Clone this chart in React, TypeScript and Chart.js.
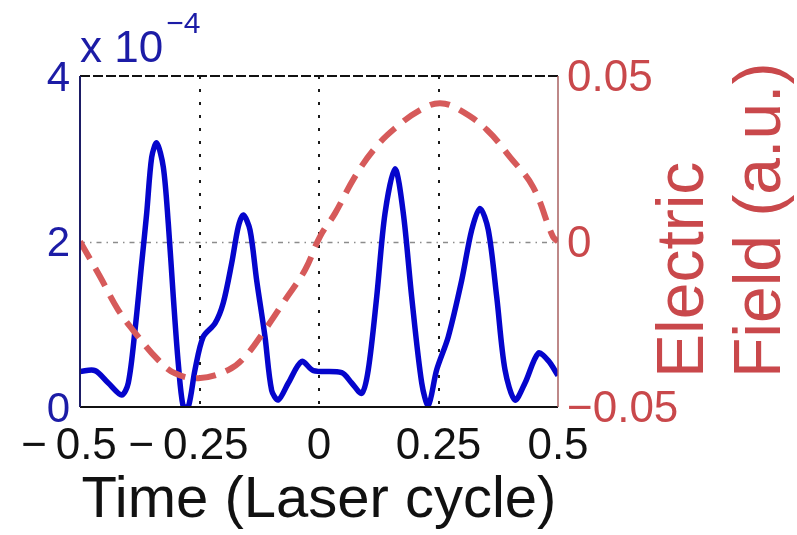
import React, { useEffect, useRef } from 'react';
import { Chart, registerables } from 'chart.js';

Chart.register(...registerables);

// Time (laser cycles) for the intensity trace
const intensityTime = [
  -0.5, -0.4686, -0.4408, -0.4128, -0.399, -0.3849, -0.3709, -0.3605, -0.35, -0.3395,
  -0.3257, -0.3153, -0.3048, -0.2944, -0.2839, -0.2734, -0.2594, -0.2421, -0.2176, -0.2002,
  -0.1826, -0.1688, -0.1584, -0.1444, -0.1304, -0.113, -0.099, -0.0851, -0.0642, -0.0362,
  -0.0119, 0.0475, 0.0684, 0.0893, 0.1031, 0.1207, 0.1381, 0.159, 0.1764, 0.1939,
  0.2149, 0.2287, 0.2462, 0.2705, 0.2985, 0.3195, 0.3368, 0.3542, 0.3718, 0.3891,
  0.41, 0.431, 0.4588, 0.4797, 0.5,
];
// Intensity in units of 1e-4
const intensityValues = [
  0.43, 0.44, 0.29, 0.145, 0.29, 0.93, 1.74, 2.34, 3.02, 3.19,
  2.9, 2.22, 1.33, 0.53, 0.0, 0.0, 0.45, 0.85, 1.01, 1.26,
  1.74, 2.18, 2.32, 2.14, 1.53, 0.85, 0.2, 0.085, 0.29, 0.55,
  0.44, 0.415, 0.29, 0.165, 0.45, 1.33, 2.34, 2.88, 2.34, 1.33,
  0.29, 0.02, 0.45, 0.85, 1.53, 2.14, 2.4, 2.14, 1.33, 0.45,
  0.085, 0.29, 0.65, 0.56, 0.38,
];

// Time (laser cycles) for the electric field
const fieldTime = [
  -0.5, -0.4582, -0.4199, -0.378, -0.3362, -0.3013, -0.2525, -0.1897, -0.1548, -0.113,
  -0.0711, -0.0293, 0.0021, 0.0335, 0.0753, 0.1172, 0.159, 0.2113, 0.2531, 0.295,
  0.3515, 0.3996, 0.4477, 0.4895, 0.5,
];
// Electric field (a.u.)
const fieldValues = [
  0.0, -0.0106, -0.0207, -0.0288, -0.0358, -0.0398, -0.0413, -0.0388, -0.0348, -0.0267,
  -0.0177, -0.0086, 0.0015, 0.0085, 0.0196, 0.0282, 0.0342, 0.0397, 0.0418, 0.0397,
  0.0337, 0.0255, 0.0165, 0.0014, 0.0,
];

const xTickValues = [-0.5, -0.25, 0, 0.25, 0.5];
const xTickLabels = ['\u2212\u20090.5\u2002', '\u2212\u20090.25\u2002', '0', '0.25', '0.5'];
const xGridValues = [-0.25, 0, 0.25];
const leftGridValues = [2];

const FONT = '"Liberation Sans", Arial, Helvetica, sans-serif';
const BLUE_LINE = '#0505cc';
const BLUE_TEXT = '#1c1ca6';
const RED_LINE = '#d65a5a';
const RED_TEXT = '#c9484b';

const overlayPlugin = {
  id: 'overlay',
  beforeDatasetsDraw(chart: any) {
    const { ctx, chartArea, scales } = chart;
    const { top, bottom, left, right } = chartArea;
    ctx.save();
    ctx.strokeStyle = '#1a1a1a';
    ctx.lineWidth = 2;
    ctx.setLineDash([3, 10]);
    for (const v of xGridValues) {
      const x = Math.round(scales.x.getPixelForValue(v));
      ctx.beginPath();
      ctx.moveTo(x, top);
      ctx.lineTo(x, bottom);
      ctx.stroke();
    }
    ctx.strokeStyle = '#8c8c8c';
    ctx.lineWidth = 1.5;
    ctx.setLineDash([5, 5, 1.5, 5]);
    for (const v of leftGridValues) {
      const y = Math.round(scales.y.getPixelForValue(v)) + 0.5;
      ctx.beginPath();
      ctx.moveTo(left, y);
      ctx.lineTo(right, y);
      ctx.stroke();
    }
    ctx.restore();
  },
  afterDatasetsDraw(chart: any) {
    const { ctx, chartArea } = chart;
    const { top, bottom, left, right } = chartArea;
    ctx.save();
    // box
    ctx.setLineDash([10, 3]);
    ctx.strokeStyle = '#111';
    ctx.lineWidth = 2;
    ctx.beginPath();
    ctx.moveTo(left, top);
    ctx.lineTo(right, top);
    ctx.stroke();
    ctx.setLineDash([]);
    ctx.beginPath();
    ctx.moveTo(left, bottom);
    ctx.lineTo(right, bottom);
    ctx.stroke();
    ctx.strokeStyle = '#1d1d66';
    ctx.beginPath();
    ctx.moveTo(left, top);
    ctx.lineTo(left, bottom);
    ctx.stroke();
    ctx.strokeStyle = '#a86060';
    ctx.lineWidth = 1.5;
    ctx.beginPath();
    ctx.moveTo(right, top);
    ctx.lineTo(right, bottom);
    ctx.stroke();

    // multiplier
    ctx.fillStyle = BLUE_TEXT;
    ctx.textAlign = 'left';
    ctx.textBaseline = 'alphabetic';
    ctx.font = `44px ${FONT}`;
    const base = 'x 10';
    ctx.fillText(base, left, top - 14);
    const w = ctx.measureText(base).width;
    ctx.font = `30px ${FONT}`;
    ctx.fillText('\u22124', left + w + 3, top - 43);

    // right axis title (two lines, reading bottom to top)
    ctx.fillStyle = RED_TEXT;
    ctx.font = `66px ${FONT}`;
    const startY = bottom - 29;
    ctx.save();
    ctx.translate(right + 145, startY);
    ctx.rotate(-Math.PI / 2);
    ctx.fillText('Electric', 0, 0);
    ctx.restore();
    ctx.save();
    ctx.translate(right + 222, startY);
    ctx.rotate(-Math.PI / 2);
    ctx.fillText('Field (a.u.)', 0, 0);
    ctx.restore();
    ctx.restore();
  },
};

export default function App() {
  const ref = useRef<HTMLCanvasElement | null>(null);

  useEffect(() => {
    document.body.style.margin = '0';
    const canvas = ref.current;
    if (!canvas) return;
    const intensityData = intensityTime.map((t, i) => ({ x: t, y: intensityValues[i] }));
    const fieldData = fieldTime.map((t, i) => ({ x: t, y: fieldValues[i] }));
    const chart = new Chart(canvas, {
      type: 'line',
      data: {
        datasets: [
          {
            label: 'Electric field',
            data: fieldData,
            yAxisID: 'y1',
            borderColor: RED_LINE,
            borderWidth: 6,
            borderDash: [20, 11],
            pointRadius: 0,
            tension: 0.4,
            fill: false,
            order: 0,
          },
          {
            label: 'Intensity',
            data: intensityData,
            yAxisID: 'y',
            borderColor: BLUE_LINE,
            borderWidth: 5.5,
            pointRadius: 0,
            tension: 0.3,
            fill: false,
            order: 1,
          },
        ],
      },
      options: {
        responsive: false,
        animation: false,
        events: [],
        layout: { padding: { top: 76, left: 0, right: 0, bottom: 0 } },
        plugins: {
          legend: { display: false },
          tooltip: { enabled: false },
        },
        scales: {
          x: {
            type: 'linear',
            position: 'bottom',
            min: -0.5,
            max: 0.5,
            afterBuildTicks: (scale: any) => {
              scale.ticks = xTickValues.map((v) => ({ value: v }));
            },
            afterFit: (scale: any) => {
              scale.height = 128;
            },
            grid: { display: false, drawTicks: false },
            border: { display: false },
            ticks: {
              color: '#111',
              font: { family: FONT, size: 44, lineHeight: 1 },
              padding: 18,
              maxRotation: 0,
              autoSkip: false,
              callback: (v: any) => {
                const i = xTickValues.findIndex((t) => Math.abs(t - Number(v)) < 1e-9);
                return i >= 0 ? xTickLabels[i] : '';
              },
            },
            title: {
              display: true,
              text: 'Time (Laser cycle)',
              color: '#111',
              font: { family: FONT, size: 58, lineHeight: 1 },
              padding: { top: 0, bottom: 5 },
            },
          },
          y: {
            type: 'linear',
            position: 'left',
            min: 0,
            max: 4,
            afterFit: (scale: any) => {
              scale.width = 80;
            },
            grid: { display: false, drawTicks: false },
            border: { display: false },
            ticks: {
              stepSize: 2,
              color: BLUE_TEXT,
              font: { family: FONT, size: 42, lineHeight: 1 },
              padding: 10,
              labelOffset: 3,
              callback: (v: any) => String(Math.round(Number(v))),
            },
          },
          y1: {
            type: 'linear',
            position: 'right',
            min: -0.05,
            max: 0.05,
            afterFit: (scale: any) => {
              scale.width = 239;
            },
            grid: { display: false, drawTicks: false },
            border: { display: false },
            ticks: {
              stepSize: 0.05,
              color: RED_TEXT,
              font: { family: FONT, size: 44, lineHeight: 1 },
              padding: 9,
              labelOffset: 3,
              callback: (v: any) => {
                const n = Number(v);
                if (Math.abs(n) < 1e-9) return '0';
                return (n < 0 ? '\u2212' : '') + Math.abs(n).toFixed(2);
              },
            },
          },
        },
      },
      plugins: [overlayPlugin],
    } as any);
    return () => chart.destroy();
  }, []);

  return (
    <div style={{ position: 'absolute', left: 0, top: 0, width: 797, height: 535, background: '#fff' }}>
      <canvas ref={ref} width={797} height={535} style={{ display: 'block', width: 797, height: 535 }} />
    </div>
  );
}
